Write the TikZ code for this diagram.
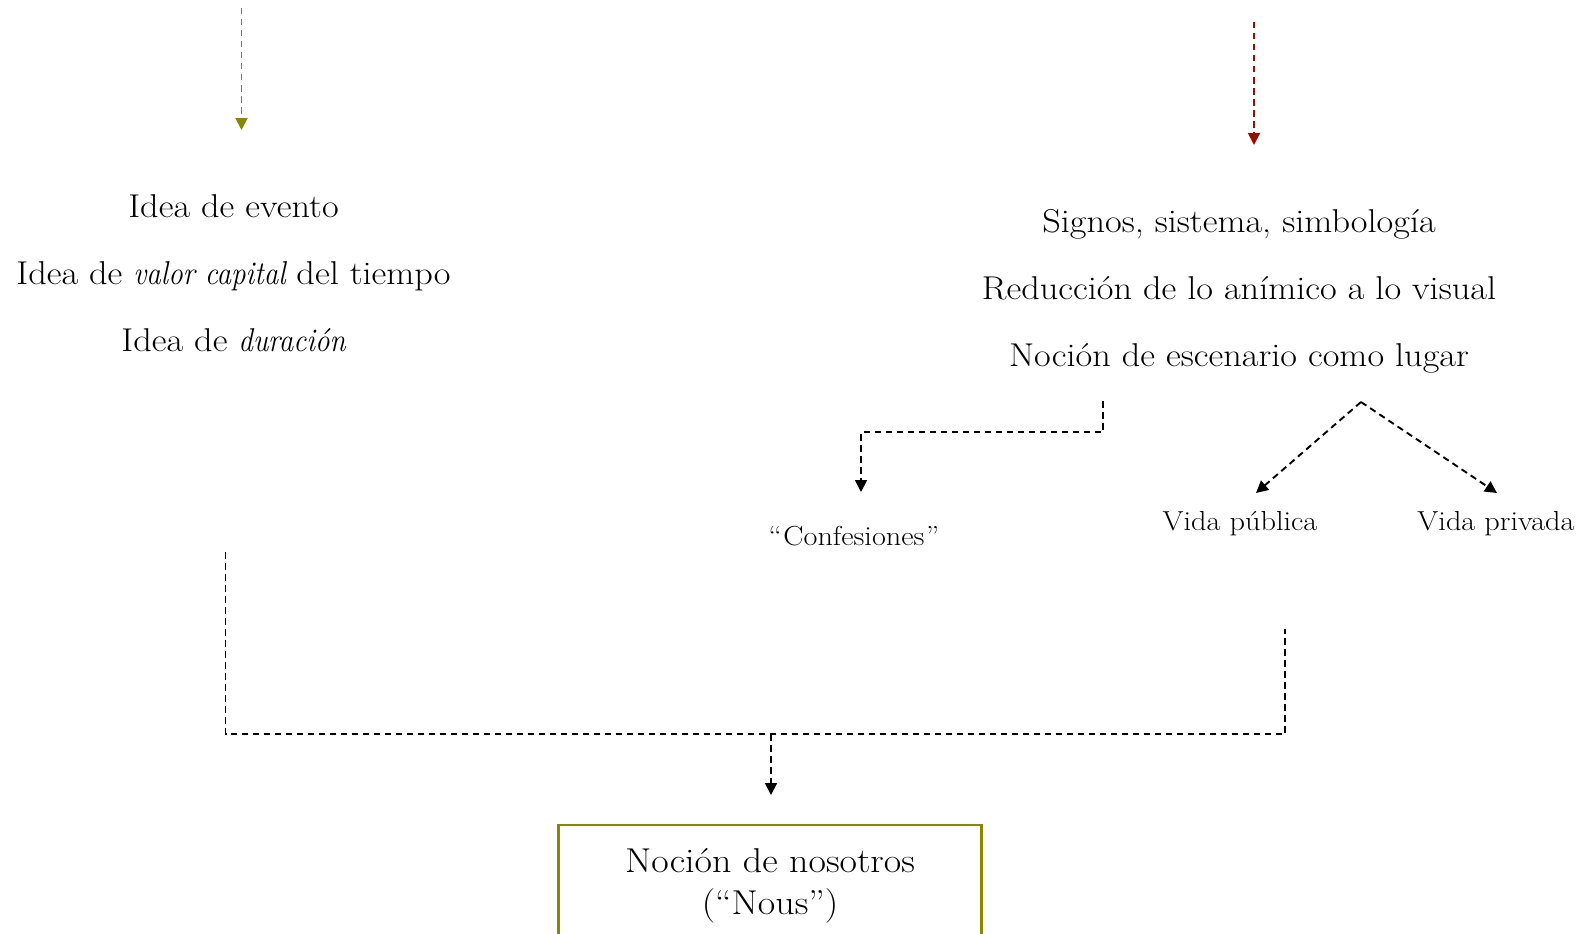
\documentclass[tikz,border=0pt]{standalone}
\usepackage{fontspec}
\usepackage{graphicx}
\usetikzlibrary{arrows.meta}
\definecolor{olivec}{RGB}{135,135,0}
\definecolor{redc}{RGB}{150,15,0}
\newcommand\sx[1]{\scalebox{1.1}[1]{#1}}
\newcommand\myit[1]{\scalebox{0.8}[1]{\itshape #1}}
\tikzset{
  conn/.style={line width=1.9pt, dash pattern=on 6.5pt off 4.5pt, -{Triangle[width=12pt,length=12pt]}},
  plainconn/.style={line width=1.9pt, dash pattern=on 6.5pt off 4.5pt},
  big/.style={font=\fontsize{33}{38}\selectfont, anchor=base, inner sep=0pt},
  small/.style={font=\fontsize{27.5}{32}\selectfont, anchor=base, inner sep=0pt},
  boxtext/.style={font=\fontsize{34.5}{42}\selectfont, anchor=base, inner sep=0pt},
}
\begin{document}
\begin{tikzpicture}[x=1pt,y=-1pt]
\useasboundingbox (0,0) rectangle (1585,934);
\clip (0,0) rectangle (1585,934);
% top arrows
\coordinate (oa) at (241.5,8);
\coordinate (ob) at (241.5,130);
\coordinate (ra) at (1254,22);
\coordinate (rb) at (1254,145);
\draw[conn, color=olivec] (oa) -- (ob);
\draw[conn, color=redc] (ra) -- (rb);
% left group
\node[big] (l1) at (233.5,217) {\sx{Idea de evento}};
\node[big] (l2) at (233.5,284) {\sx{Idea de \myit{valor capital} del tiempo}};
\node[big] (l3) at (233.5,351) {\sx{Idea de \myit{duración}}};
% right group
\node[big] (r1) at (1239,232) {\sx{Signos, sistema, simbología}};
\node[big] (r2) at (1239,299) {\sx{Reducción de lo anímico a lo visual}};
\node[big] (r3) at (1239,366) {\sx{Noción de escenario como lugar}};
% confesiones
\coordinate (cs) at (1103,401);
\coordinate (ct) at (861,492);
\draw[conn] (cs) -- (1103,432) -| (ct);
\node[small] (conf) at (854,545) {\sx{“\kern1.5pt Confesiones\kern1.5pt ”}};
% fork
\coordinate (apex) at (1361,402);
\coordinate (pubt) at (1256,493);
\coordinate (privt) at (1497,493);
\draw[conn] (apex) -- (pubt);
\draw[conn] (apex) -- (privt);
\node[small] (pub) at (1240,530) {\sx{Vida pública}};
\node[small] (priv) at (1496,530) {\sx{Vida privada}};
% bottom connector
\coordinate (bl) at (225.5,552);
\coordinate (br) at (1285,629);
\coordinate (bm) at (771,734);
\coordinate (bt) at (771,795);
\draw[plainconn] (bl) |- (bm) -| (br);
\draw[conn] (bm) -- (bt);
% box
\node[draw=olivec, line width=2.4pt, minimum width=423pt, minimum height=200pt, anchor=north, inner sep=0pt] (nous) at (770,824) {};
\node[boxtext] (n1) at (770,872) {\sx{Noción de nosotros}};
\node[boxtext] (n2) at (770,914) {\sx{(“Nous”)}};
\end{tikzpicture}
\end{document}
